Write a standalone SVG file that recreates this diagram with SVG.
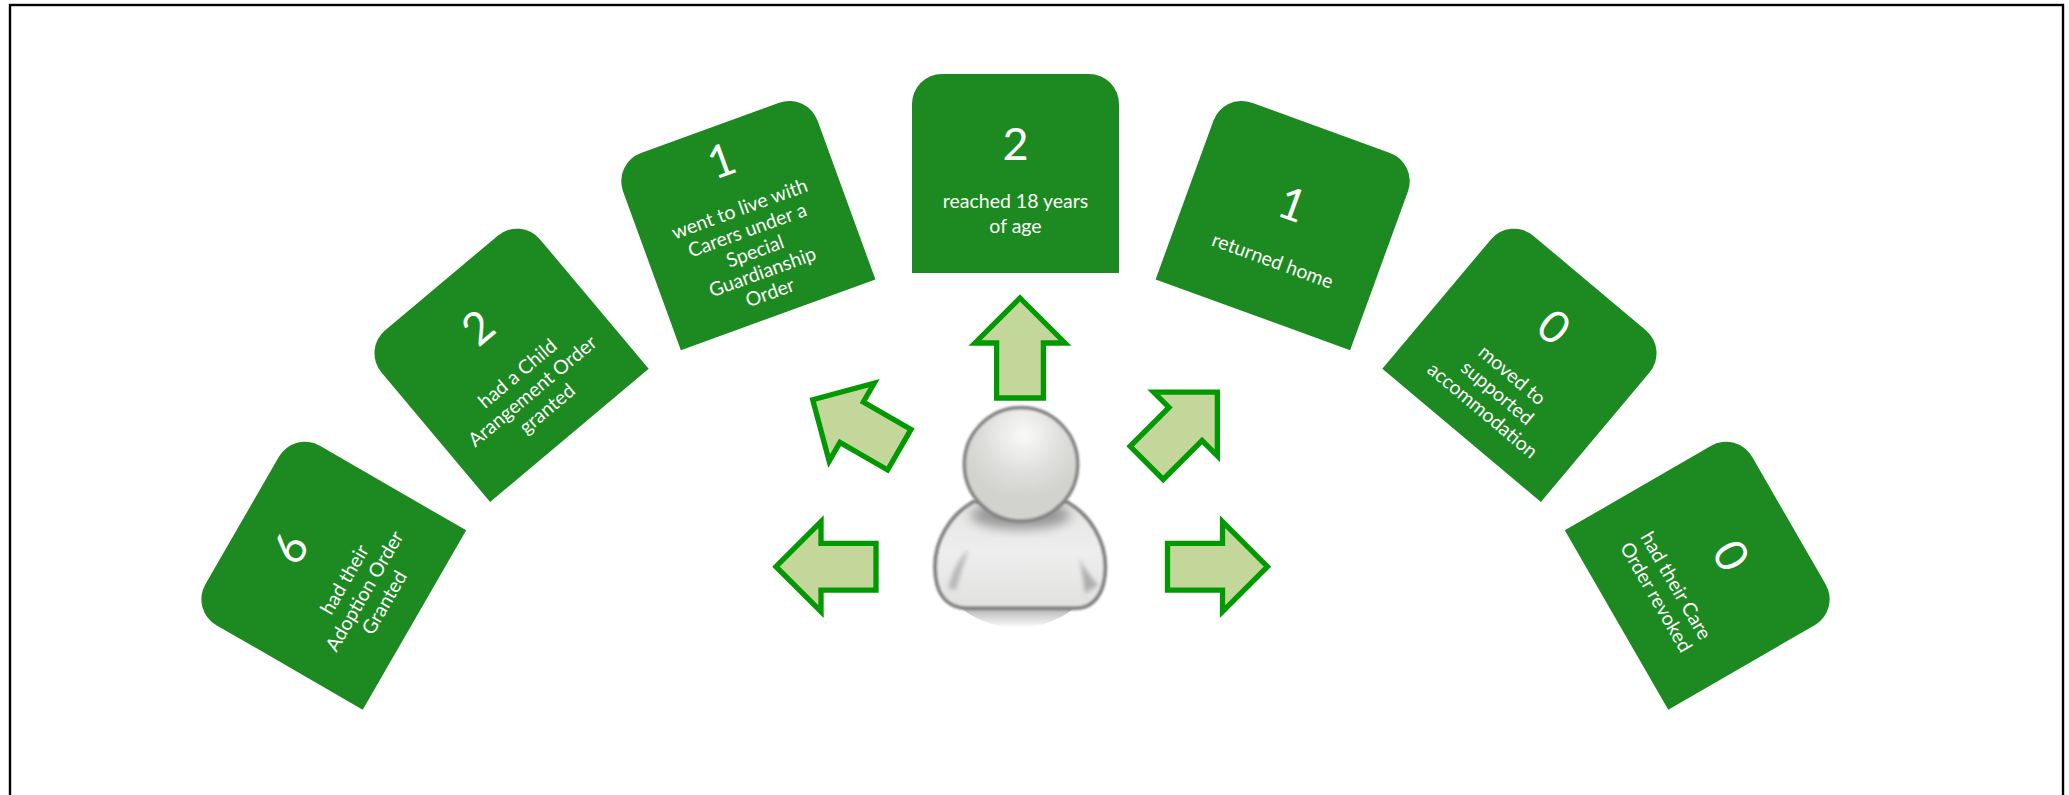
<svg xmlns="http://www.w3.org/2000/svg" width="2069" height="795" viewBox="0 0 2069 795">
<style>
.card{fill:#1c8a20}
.num{font-family:"Lato","Carlito","Liberation Sans",sans-serif;font-size:45px;fill:#fff;text-anchor:middle}
.lbl{font-family:"Lato","Carlito","Liberation Sans",sans-serif;font-size:19.5px;fill:#fff;text-anchor:middle}
.arrow{fill:#c4d79b;stroke:#009900;stroke-width:5.3;stroke-miterlimit:8}
</style>
<defs>
<path id="cardShape" class="card" d="M942,74H1089A30,30 0 0 1 1119,104V273H912V104A30,30 0 0 1 942,74Z"/>
<path id="arrowShape" class="arrow" d="M0,-50L45,-5H23.4V50H-23.4V-5H-45Z"/>
<radialGradient id="headGrad" gradientUnits="userSpaceOnUse" cx="790" cy="465" r="190">
<stop offset="0" stop-color="#fafafa"/><stop offset="0.6" stop-color="#dfdfdd"/><stop offset="1" stop-color="#d2d3cf"/>
</radialGradient>
<linearGradient id="bodyGrad" gradientUnits="userSpaceOnUse" x1="0" y1="680" x2="0" y2="985">
<stop offset="0" stop-color="#e6e6e5"/><stop offset="0.45" stop-color="#eeeeee"/><stop offset="1" stop-color="#e0e0df"/>
</linearGradient>
<linearGradient id="dropGrad" gradientUnits="userSpaceOnUse" x1="0" y1="880" x2="0" y2="1044">
<stop offset="0" stop-color="#f4f4f4"/><stop offset="0.65" stop-color="#b8b8b8"/><stop offset="1" stop-color="#ffffff"/>
</linearGradient>
<filter id="soft" x="-10%" y="-10%" width="120%" height="120%"><feGaussianBlur stdDeviation="3.6"/></filter>
<filter id="armBlur" x="-60%" y="-30%" width="220%" height="160%"><feGaussianBlur stdDeviation="7"/></filter>
<filter id="softer" x="-30%" y="-60%" width="160%" height="220%"><feGaussianBlur stdDeviation="18"/></filter>
<clipPath id="bodyClip"><path d="M640,665C570,705 525,780 525,860C525,935 555,985 625,985H945C1005,985 1036,935 1036,860C1036,780 990,705 920,665Z"/></clipPath>
<clipPath id="dropClip"><rect x="480" y="880" width="600" height="180"/></clipPath>
</defs>
<rect id="frame" x="10" y="5" width="2053" height="1000" fill="#fff" stroke="#000" stroke-width="2.4"/>
<g id="card-adoption" transform="rotate(-60 1015.5 967)">
<use href="#cardShape"/><text class="num" x="1015.5" y="145.5">6</text>
<text class="lbl" x="1015.5" y="199">had their</text><text class="lbl" x="1015.5" y="222">Adoption Order</text><text class="lbl" x="1015.5" y="245">Granted</text>
</g>
<g id="card-arrangement" transform="rotate(-40 1015.5 967)">
<use href="#cardShape"/><text class="num" x="1015" y="147.5">2</text>
<text class="lbl" x="1015.5" y="199">had a Child</text><text class="lbl" x="1015.5" y="222">Arangement Order</text><text class="lbl" x="1015.5" y="245">granted</text>
</g>
<g id="card-guardianship" transform="rotate(-20 1015.5 967)">
<use href="#cardShape"/><text class="num" x="1015" y="124.5">1</text>
<text class="lbl" x="1015.5" y="167">went to live with</text><text class="lbl" x="1015.5" y="189.5">Carers under a</text><text class="lbl" x="1015.5" y="212">Special</text><text class="lbl" x="1015.5" y="234">Guardianship</text><text class="lbl" x="1015.5" y="256">Order</text>
</g>
<g id="card-eighteen">
<use href="#cardShape"/><text class="num" x="1015.5" y="160">2</text>
<text class="lbl" x="1015.5" y="208">reached 18 years</text><text class="lbl" x="1015.5" y="233">of age</text>
</g>
<g id="card-home" transform="rotate(20 1015.5 967)">
<use href="#cardShape"/><text class="num" x="1015" y="171.5">1</text>
<text class="lbl" x="1015.5" y="222">returned home</text>
</g>
<g id="card-supported" transform="rotate(40 1015.5 967)">
<use href="#cardShape"/><text class="num" x="1016.5" y="146.5">0</text>
<text class="lbl" x="1015.5" y="201">moved to</text><text class="lbl" x="1015.5" y="224">supported</text><text class="lbl" x="1015.5" y="247">accommodation</text>
</g>
<g id="card-revoked" transform="rotate(60 1015.5 967)">
<use href="#cardShape"/><text class="num" x="1017" y="157.5">0</text>
<text class="lbl" x="1015.5" y="211">had their Care</text><text class="lbl" x="1015.5" y="234">Order revoked</text>
</g>
<g id="connectors">
<use href="#arrowShape" transform="translate(826 566.7) rotate(-90)"/>
<use href="#arrowShape" transform="translate(856 424.7) rotate(-60)"/>
<use href="#arrowShape" transform="translate(1020 348)"/>
<use href="#arrowShape" transform="translate(1182 427.5) rotate(45)"/>
<use href="#arrowShape" transform="translate(1217.5 566.7) rotate(90)"/>
</g>
<g id="person" transform="translate(760 280) scale(.33333)">
<circle cx="773" cy="772" r="272" fill="url(#dropGrad)" clip-path="url(#dropClip)"/>
<g filter="url(#soft)">
<path d="M640,665C570,705 525,780 525,860C525,935 555,985 625,985H945C1005,985 1036,935 1036,860C1036,780 990,705 920,665Z" fill="url(#bodyGrad)" stroke="#858585" stroke-width="12"/>
</g>
<g clip-path="url(#bodyClip)">
<ellipse cx="782" cy="705" rx="150" ry="42" fill="#969696" filter="url(#softer)"/>
<path d="M565,925C575,875 600,835 625,808C612,850 598,890 588,930Z" fill="#b8b8b8" filter="url(#armBlur)"/>
<path d="M975,940C970,895 965,860 955,830C975,870 1000,900 1015,915Z" fill="#adadad" filter="url(#armBlur)"/>
<path d="M570,968H990" stroke="#fafafa" stroke-width="12" fill="none" filter="url(#armBlur)"/>
</g>
<circle cx="783" cy="553" r="170" fill="url(#headGrad)" stroke="#858585" stroke-width="11" filter="url(#soft)"/>
</g>
</svg>
